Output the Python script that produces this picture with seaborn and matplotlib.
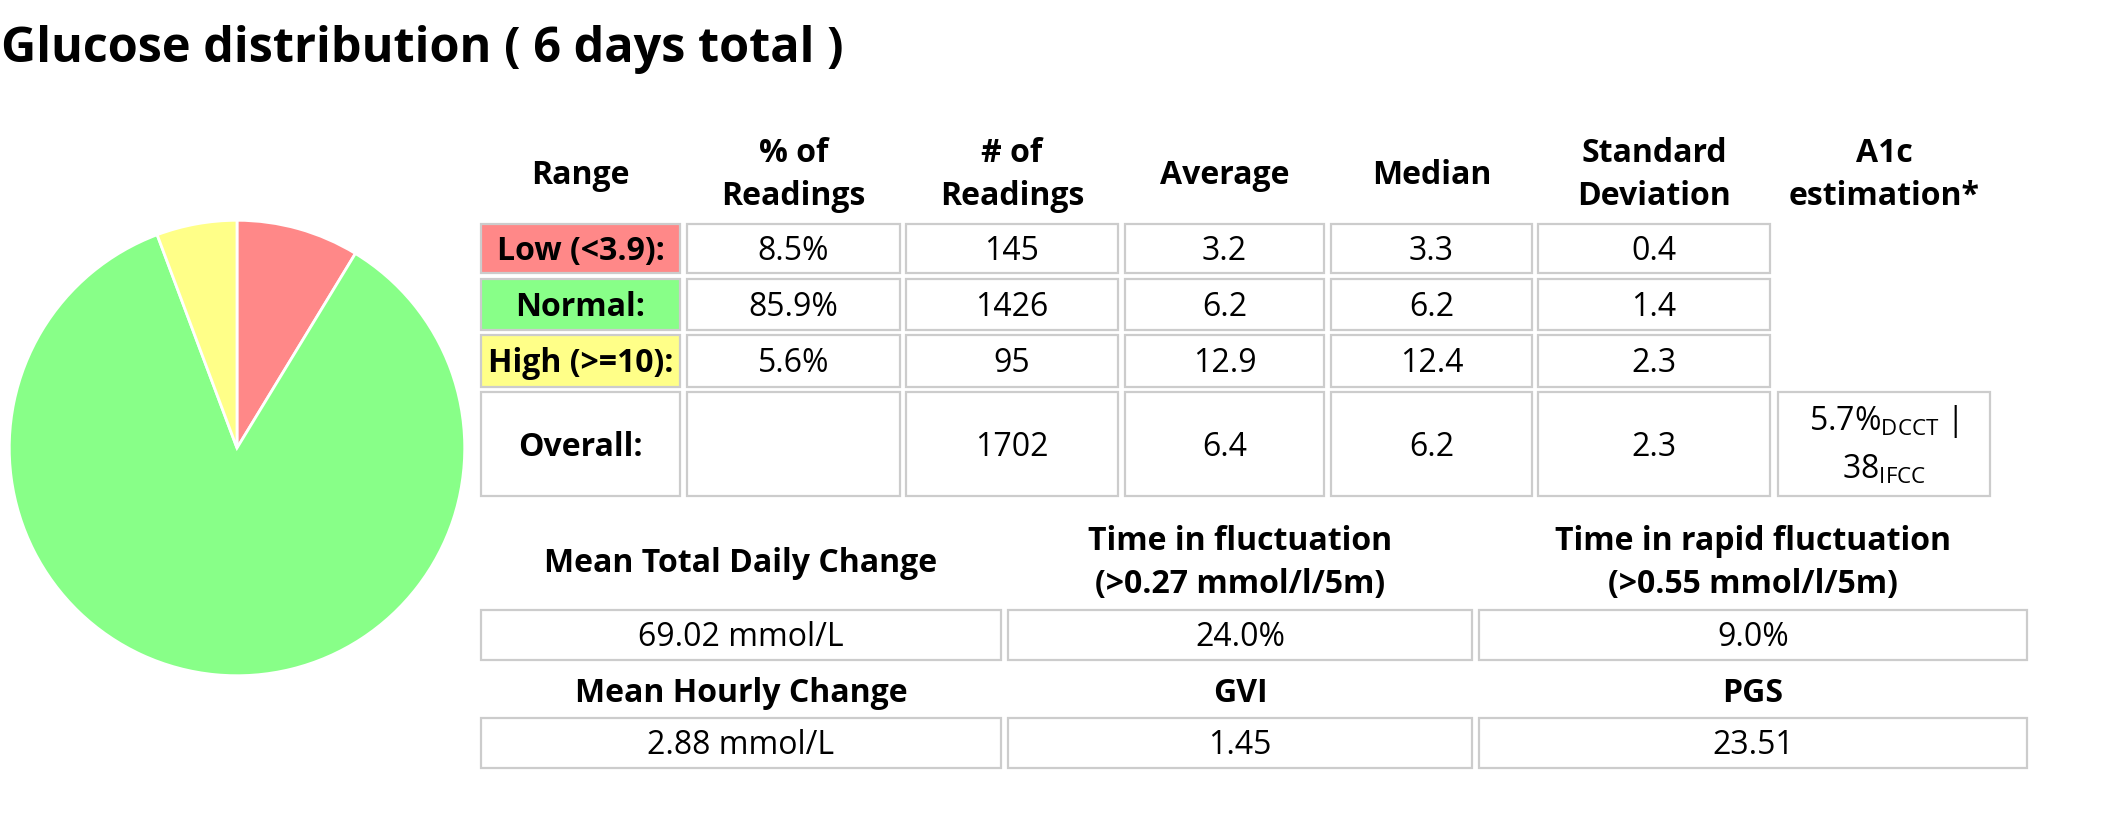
import matplotlib
matplotlib.use("Agg")
import matplotlib.pyplot as plt
from matplotlib.patches import Rectangle
import seaborn as sns

# ---- data ----
ranges = ["Low (<3.9):", "Normal:", "High (>=10):"]
pct_readings = [8.5, 85.9, 5.6]
num_readings = [145, 1426, 95]
avg_vals = [3.2, 6.2, 12.9]
median_vals = [3.3, 6.2, 12.4]
sd_vals = [0.4, 1.4, 2.3]
overall_num = 1702
overall_avg = 6.4
overall_median = 6.2
overall_sd = 2.3
a1c_dcct = 5.7
a1c_ifcc = 38
headers = ["Range", "% of\nReadings", "# of\nReadings", "Average", "Median",
           "Standard\nDeviation", "A1c\nestimation*"]
var_labels1 = ["Mean Total Daily Change", "Time in fluctuation\n(>0.27 mmol/l/5m)",
               "Time in rapid fluctuation\n(>0.55 mmol/l/5m)"]
var_values1 = ["69.02 mmol/L", "24.0%", "9.0%"]
var_labels2 = ["Mean Hourly Change", "GVI", "PGS"]
var_values2 = ["2.88 mmol/L", "1.45", "23.51"]
days = 6

range_colors = ["#FF8888", "#88FF88", "#FFFF88"]
BORDER = "#cccccc"
FS = 23

sns.set_theme(style="white")
plt.rcParams['font.family'] = ['Open Sans', 'DejaVu Sans']
plt.rcParams['text.color'] = 'black'
plt.rcParams['mathtext.fontset'] = 'custom'
plt.rcParams['mathtext.rm'] = 'Open Sans'
plt.rcParams['mathtext.it'] = 'Open Sans'

W, H = 2112, 826
fig = plt.figure(figsize=(W / 100, H / 100), dpi=100)

# layout axes in pixel units
ax = fig.add_axes([0, 0, 1, 1])
ax.set_xlim(0, W)
ax.set_ylim(H, 0)
ax.axis("off")

ax.text(1, 49, "Glucose distribution ( %d days total )" % days, fontsize=35,
        fontweight="bold", ha="left", va="center")

# pie
cx, cy, r = 237, 448, 230
pax = fig.add_axes([(cx - r) / W, (H - cy - r) / H, 2 * r / W, 2 * r / H])
pax.pie(num_readings, colors=range_colors, startangle=90, counterclock=False,
        wedgeprops=dict(edgecolor="white", linewidth=2))
pax.set_xlim(-1.01, 1.01)
pax.set_ylim(-1.01, 1.01)
pax.set_aspect("equal")
pax.axis("off")


def cell(x0, x1, y0, y1, text="", bold=False, fc="white"):
    ax.add_patch(Rectangle((x0, y0), x1 - x0, y1 - y0, fc=fc, ec=BORDER, lw=1.6))
    if text:
        ax.text((x0 + x1) / 2, (y0 + y1) / 2 + 3, text, ha="center", va="center",
                fontsize=FS, fontweight="bold" if bold else "normal")


def head(x0, x1, yc, text):
    ax.text((x0 + x1) / 2, yc, text, ha="center", va="center", fontsize=FS,
            fontweight="bold", linespacing=1.42)


# table 1
cols = [(481, 680), (687, 900), (906, 1118), (1125, 1324), (1331, 1532),
        (1538, 1770), (1778, 1990)]
rows = [(224, 273), (279, 330), (335, 387)]
for (x0, x1), h in zip(cols, headers):
    head(x0, x1, 175, h)

for i, (y0, y1) in enumerate(rows):
    vals = ["%.1f%%" % pct_readings[i], str(num_readings[i]), "%.1f" % avg_vals[i],
            "%.1f" % median_vals[i], "%.1f" % sd_vals[i]]
    cell(*cols[0], y0, y1, ranges[i], bold=True, fc=range_colors[i])
    for (x0, x1), v in zip(cols[1:6], vals):
        cell(x0, x1, y0, y1, v)

oy0, oy1 = 392, 496
cell(*cols[0], oy0, oy1, "Overall:", bold=True)
cell(*cols[1], oy0, oy1)
for (x0, x1), v in zip(cols[2:6], [str(overall_num), "%.1f" % overall_avg,
                                   "%.1f" % overall_median, "%.1f" % overall_sd]):
    cell(x0, x1, oy0, oy1, v)
cell(*cols[6], oy0, oy1)
acx = (cols[6][0] + cols[6][1]) / 2
ax.text(acx, 422, r"%.1f%%$_{\mathrm{DCCT}}$ |" % a1c_dcct, ha="center", va="center",
        fontsize=FS)
ax.text(acx, 470, r"%d$_{\mathrm{IFCC}}$" % a1c_ifcc, ha="center", va="center",
        fontsize=FS)

# table 2
cols2 = [(481, 1001), (1008, 1472), (1479, 2027)]
for (x0, x1), lab, v in zip(cols2, var_labels1, var_values1):
    head(x0, x1, 563, lab)
    cell(x0, x1, 610, 660, v)
for (x0, x1), lab, v in zip(cols2, var_labels2, var_values2):
    head(x0, x1, 693, lab)
    cell(x0, x1, 718, 768, v)

fig.savefig("out.png", dpi=100)
